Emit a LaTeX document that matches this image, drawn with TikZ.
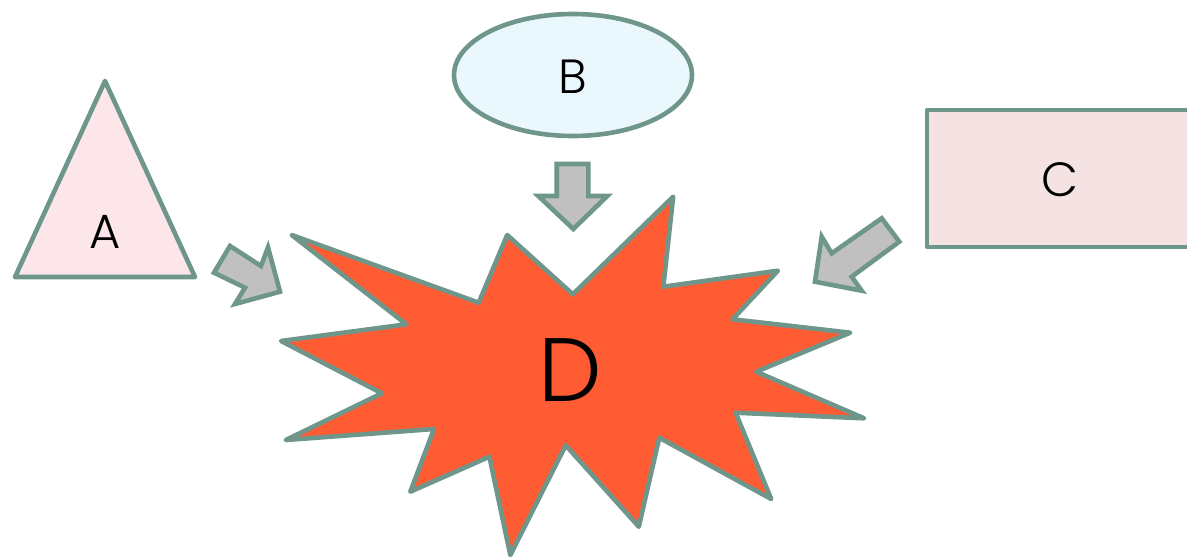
\documentclass[tikz,border=0pt]{standalone}
\usepackage{fontspec}
\setmainfont{Poppins}[UprightFont=* Light]
\definecolor{edge}{RGB}{110,150,138}
\definecolor{starfill}{RGB}{255,92,51}
\definecolor{trifill}{RGB}{252,230,234}
\definecolor{ellfill}{RGB}{234,248,253}
\definecolor{recfill}{RGB}{245,227,227}
\definecolor{arrfill}{RGB}{192,192,192}
\tikzset{
  shapeline/.style={draw=edge, line width=4.6pt, line join=round},
  blockarrow/.style={shapeline, fill=arrfill, line join=miter},
  lbl/.style={inner sep=0pt, font=\fontsize{48}{48}\selectfont},
  biglbl/.style={inner sep=0pt, font=\fontsize{90}{90}\selectfont}
}
\begin{document}
\begin{tikzpicture}[x=1pt,y=-1pt]
\useasboundingbox (0,0) rectangle (1187,557);
% A triangle
\draw[shapeline, fill=trifill] (105,81) -- (195,277) -- (15,277) -- cycle;
\node[lbl] (A) at (105,232) {A};
% B ellipse
\draw[shapeline, fill=ellfill] (573,75) ellipse [x radius=119, y radius=61];
\node[lbl] (B) at (573,77) {B};
% C rectangle
\draw[shapeline, fill=recfill] (927,110) rectangle (1200,247);
\node[lbl] (C) at (1060,180) {C};
% D star
\draw[shapeline, fill=starfill]
 (291.7,235) -- (478.7,302.7) -- (507.2,235) -- (572.8,294.3) -- (673.2,196.7)
 -- (663.3,286.7) -- (777.9,270.7) -- (732.5,319.3) -- (850.2,332.7)
 -- (756.2,371.7) -- (864.1,418.3) -- (735.6,412.7) -- (771.2,499)
 -- (659.3,437.7) -- (638.8,526.7) -- (565.7,445.3) -- (510.3,555)
 -- (489.4,456.7) -- (410.3,491.7) -- (434,429) -- (285.8,440)
 -- (381.9,393.3) -- (281.1,341) -- (406.4,324.3) -- cycle;
\node[biglbl] (D) at (570,370) {D};
% block arrows
\draw[blockarrow] (230,246) -- (261,266) -- (268,247.3) -- (280,291.7)
 -- (235,304) -- (245,287.7) -- (214,272.7) -- cycle;
\draw[blockarrow] (556.7,164) -- (588.3,164) -- (588.3,196) -- (607.3,196)
 -- (573.3,229) -- (538.3,196) -- (556.7,196) -- cycle;
\draw[blockarrow] (881.7,218.3) -- (899.3,241.7) -- (851.7,276.7) -- (861.7,290.7)
 -- (815,281.7) -- (821.7,236.7) -- (831.7,253.3) -- cycle;
\end{tikzpicture}
\end{document}
